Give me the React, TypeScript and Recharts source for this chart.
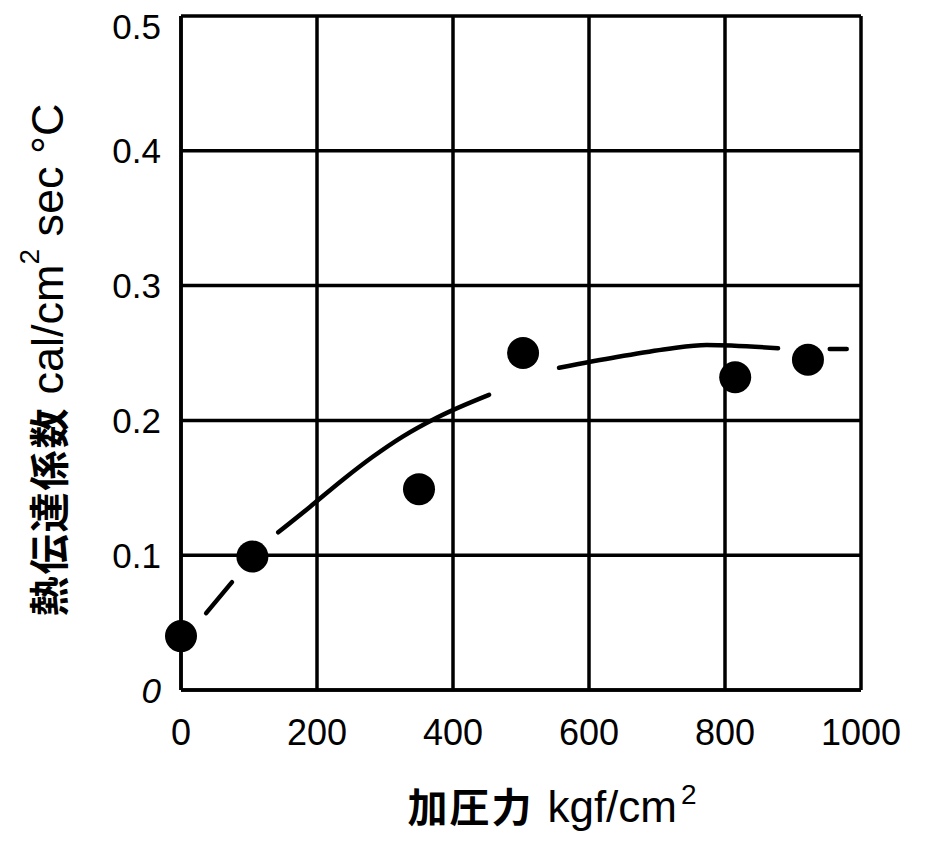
import React from 'react';
import {
  ComposedChart,
  CartesianGrid,
  XAxis,
  YAxis,
  Scatter,
  Line,
  Label,
} from 'recharts';

// measured points (加圧力 kgf/cm2 vs 熱伝達係数)
const pressure = [0, 105, 350, 503, 815, 922];
const coefficient = [0.04, 0.099, 0.149, 0.25, 0.232, 0.245];

// fitted curve, drawn as broken dash segments
const curveSeg1 = [
  { x: 37, y: 0.057 },
  { x: 75, y: 0.08 },
];
const curveSeg2 = [
  { x: 143, y: 0.117 },
  { x: 190, y: 0.136 },
  { x: 238, y: 0.156 },
  { x: 282, y: 0.173 },
  { x: 326, y: 0.188 },
  { x: 376, y: 0.202 },
  { x: 453, y: 0.219 },
];
const curveSeg3 = [
  { x: 556, y: 0.239 },
  { x: 641, y: 0.247 },
  { x: 715, y: 0.253 },
  { x: 773, y: 0.256 },
  { x: 878, y: 0.2535 },
];
const curveSeg4 = [
  { x: 954, y: 0.253 },
  { x: 979, y: 0.253 },
];

const xTicks = [0, 200, 400, 600, 800, 1000];
const yTicks = [0, 0.1, 0.2, 0.3, 0.4, 0.5];

const points = pressure.map((x, i) => ({ x, y: coefficient[i] }));

const LATIN = '"Liberation Sans", Arial, Helvetica, sans-serif';
const CJK = '"Noto Sans CJK JP", "Noto Sans CJK SC", sans-serif';

const XTick: React.FC<any> = ({ x, y, payload }) => (
  <text x={x} y={y + 47} textAnchor="middle" fontFamily={LATIN} fontSize={36} fill="#000">
    {payload.value}
  </text>
);

const YTick: React.FC<any> = ({ x, y, payload }) => {
  const v = payload.value;
  return (
    <text
      x={x - 12}
      y={v === 0.5 ? y + 10 : y}
      textAnchor="end"
      dominantBaseline="central"
      fontFamily={LATIN}
      fontSize={35}
      fontStyle={v === 0 ? 'italic' : 'normal'}
      fill="#000"
    >
      {v === 0 ? '0' : v.toFixed(1)}
    </text>
  );
};

const YTitle: React.FC<any> = ({ viewBox }) => {
  const cx = viewBox.x + 47;
  const cy = viewBox.y + viewBox.height / 2 + 7;
  return (
    <text
      x={cx}
      y={cy}
      transform={`rotate(-90, ${cx}, ${cy})`}
      textAnchor="middle"
      dominantBaseline="central"
      fill="#000"
    >
      <tspan fontFamily={CJK} fontWeight={700} fontSize={40} letterSpacing={2}>
        熱伝達係数
      </tspan>
      <tspan fontFamily={LATIN} fontSize={45} dx={12}>cal/cm</tspan>
      <tspan fontFamily={LATIN} fontSize={28} dy={-18}>2</tspan>
      <tspan fontFamily={LATIN} fontSize={45} dy={18}> sec °C</tspan>
    </text>
  );
};

const XTitle: React.FC<any> = ({ viewBox }) => {
  const cx = viewBox.x + viewBox.width / 2 + 31;
  const by = viewBox.y + 132;
  return (
    <text x={cx} y={by} textAnchor="middle" fill="#000">
      <tspan fontFamily={CJK} fontWeight={700} fontSize={40} letterSpacing={2}>
        加圧力
      </tspan>
      <tspan fontFamily={LATIN} fontSize={44} dx={14}>kgf/cm</tspan>
      <tspan fontFamily={LATIN} fontSize={28} dy={-18} dx={4}>2</tspan>
    </text>
  );
};

const Dot: React.FC<any> = ({ cx, cy }) => <circle cx={cx} cy={cy} r={16} fill="#000" />;

const segStyle = {
  type: 'monotone' as const,
  dataKey: 'y',
  stroke: '#000',
  strokeWidth: 4.5,
  strokeLinecap: 'round' as const,
  dot: false,
  activeDot: false,
  isAnimationActive: false,
};

const App: React.FC = () => {
  return (
    <div style={{ position: 'absolute', left: 0, top: 0, background: '#fff' }}>
      <ComposedChart
        width={941}
        height={841}
        data={points}
        margin={{ top: 16, right: 80, bottom: 0, left: 0 }}
      >
        <CartesianGrid stroke="#000" strokeWidth={3.5} />
        <XAxis
          type="number"
          dataKey="x"
          domain={[0, 1000]}
          ticks={xTicks}
          height={151}
          axisLine={{ stroke: '#000', strokeWidth: 3.5 }}
          tickLine={false}
          tick={<XTick />}
        >
          <Label content={<XTitle />} />
        </XAxis>
        <YAxis
          type="number"
          dataKey="y"
          domain={[0, 0.5]}
          ticks={yTicks}
          width={181}
          axisLine={{ stroke: '#000', strokeWidth: 3.5 }}
          tickLine={false}
          tick={<YTick />}
        >
          <Label content={<YTitle />} />
        </YAxis>
        <Line data={curveSeg1} {...segStyle} />
        <Line data={curveSeg2} {...segStyle} />
        <Line data={curveSeg3} {...segStyle} />
        <Line data={curveSeg4} {...segStyle} />
        <Scatter data={points} dataKey="y" fill="#000" shape={<Dot />} isAnimationActive={false} />
      </ComposedChart>
    </div>
  );
};

export default App;
